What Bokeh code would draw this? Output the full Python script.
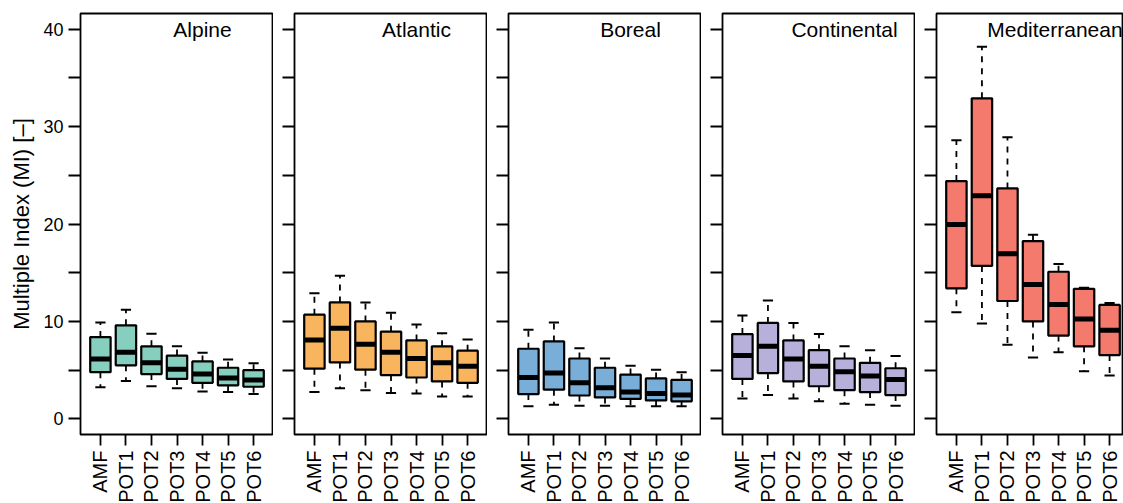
from bokeh.plotting import figure
from bokeh.layouts import row
from bokeh.models import FixedTicker, Range1d, Label, ColumnDataSource
from bokeh.embed import file_html
from bokeh.resources import INLINE

# ---------------- data ----------------
categories = ["AMF", "POT1", "POT2", "POT3", "POT4", "POT5", "POT6"]
regions = ["Alpine", "Atlantic", "Boreal", "Continental", "Mediterranean"]
colors = ["#86cfbe", "#f9b45e", "#78aed8", "#b6b0da", "#f37a6c"]

whisker_low = [
    [3.25, 3.9, 3.35, 3.15, 2.8, 2.75, 2.55],     # Alpine
    [2.75, 3.15, 2.95, 2.65, 2.6, 2.3, 2.3],      # Atlantic
    [1.3, 1.45, 1.35, 1.35, 1.3, 1.3, 1.3],       # Boreal
    [2.1, 2.45, 2.1, 1.8, 1.55, 1.45, 1.35],      # Continental
    [10.95, 9.8, 7.6, 6.3, 6.85, 4.9, 4.45],      # Mediterranean
]
q1 = [
    [4.8, 5.5, 4.6, 4.1, 3.7, 3.45, 3.3],
    [5.15, 5.8, 5.05, 4.5, 4.25, 3.85, 3.7],
    [2.55, 3.0, 2.4, 2.2, 2.05, 1.9, 1.8],
    [4.1, 4.7, 3.85, 3.35, 2.95, 2.75, 2.45],
    [13.4, 15.7, 12.1, 10.0, 8.55, 7.45, 6.55],
]
median = [
    [6.15, 6.85, 5.75, 5.1, 4.6, 4.2, 4.0],
    [8.1, 9.3, 7.65, 6.85, 6.2, 5.75, 5.4],
    [4.25, 4.7, 3.7, 3.2, 2.75, 2.6, 2.45],
    [6.5, 7.45, 6.15, 5.4, 4.85, 4.4, 4.05],
    [19.95, 22.9, 16.95, 13.8, 11.75, 10.25, 9.1],
]
q3 = [
    [8.4, 9.6, 7.45, 6.5, 5.9, 5.25, 5.0],
    [10.7, 11.95, 10.0, 8.95, 8.05, 7.45, 7.0],
    [7.2, 7.95, 6.2, 5.25, 4.55, 4.15, 4.0],
    [8.7, 9.85, 8.05, 7.05, 6.2, 5.75, 5.2],
    [24.4, 32.9, 23.65, 18.25, 15.1, 13.35, 11.7],
]
whisker_high = [
    [9.9, 11.2, 8.75, 7.45, 6.8, 6.1, 5.7],
    [12.9, 14.7, 11.95, 10.9, 9.7, 8.8, 8.15],
    [9.15, 9.9, 7.25, 6.2, 5.45, 5.05, 4.8],
    [10.6, 12.15, 9.85, 8.7, 7.45, 7.05, 6.45],
    [28.6, 38.2, 28.9, 18.9, 15.9, 13.45, 11.9],
]
y_ticks = [0, 5, 10, 15, 20, 25, 30, 35, 40]
y_tick_labels = {0: "0", 10: "10", 20: "20", 30: "30", 40: "40"}
y_title = "Multiple Index (MI) [\u2013]"

FONT = "Liberation Sans"
BOXW = 0.8
CAPW = 0.4
PX_PER_UNIT = 193 / 7.56

figs = []
for i, name in enumerate(regions):
    first = i == 0
    last = i == len(regions) - 1
    fw = 187 if last else 193
    x_end = 0.22 + fw / PX_PER_UNIT
    p = figure(
        frame_width=fw, frame_height=421,
        x_range=Range1d(0.22, x_end), y_range=Range1d(-1.6, 41.6),
        output_backend="svg", toolbar_location=None,
        min_border_left=80 if first else 21, min_border_right=0,
        min_border_top=13, min_border_bottom=5,
    )
    p.xgrid.grid_line_color = None
    p.ygrid.grid_line_color = None
    p.outline_line_color = "black"
    p.outline_line_width = 1.8
    p.background_fill_color = "white"
    p.border_fill_color = "white"

    xs = list(range(1, len(categories) + 1))
    src = ColumnDataSource(dict(
        x=xs, lo=whisker_low[i], q1=q1[i], med=median[i], q3=q3[i], hi=whisker_high[i],
        x0=[x - BOXW / 2 for x in xs], x1=[x + BOXW / 2 for x in xs],
        c0=[x - CAPW / 2 for x in xs], c1=[x + CAPW / 2 for x in xs],
    ))
    # whiskers (dashed)
    p.segment(x0="x", y0="q3", x1="x", y1="hi", source=src, line_color="black",
              line_width=1.8, line_dash="6 6")
    p.segment(x0="x", y0="q1", x1="x", y1="lo", source=src, line_color="black",
              line_width=1.8, line_dash="6 6")
    # caps
    p.segment(x0="c0", y0="hi", x1="c1", y1="hi", source=src, line_color="black", line_width=2)
    p.segment(x0="c0", y0="lo", x1="c1", y1="lo", source=src, line_color="black", line_width=2)
    # boxes
    p.vbar(x="x", bottom="q1", top="q3", width=BOXW, source=src, fill_color=colors[i],
           line_color="black", line_width=2.2)
    # medians
    p.segment(x0="x0", y0="med", x1="x1", y1="med", source=src, line_color="black",
              line_width=5)

    p.add_layout(Label(x=4.86 if last else 5, y=40, text=name, text_align="center",
                       text_baseline="middle", text_font=FONT, text_font_size="21px",
                       text_color="black"))

    # x axis
    xa = p.xaxis[0]
    xa.ticker = FixedTicker(ticks=xs)
    xa.major_label_overrides = {x: c for x, c in zip(xs, categories)}
    xa.major_label_orientation = 3.14159265 / 2
    xa.major_label_text_font = FONT
    xa.major_label_text_font_size = "20px"
    xa.major_label_text_color = "black"
    xa.major_label_standoff = 5
    xa.major_tick_out = 11
    xa.major_tick_in = 0
    xa.major_tick_line_width = 1.8
    xa.minor_tick_line_color = None
    xa.axis_line_color = None

    # y axis
    ya = p.yaxis[0]
    ya.ticker = FixedTicker(ticks=y_ticks)
    if first:
        ya.major_label_overrides = {t: y_tick_labels.get(t, "") for t in y_ticks}
        ya.axis_label = y_title
        ya.axis_label_text_font = FONT
        ya.axis_label_text_font_size = "22px"
        ya.axis_label_text_font_style = "normal"
        ya.axis_label_text_color = "black"
        ya.axis_label_standoff = 6
    else:
        ya.major_label_overrides = {t: "" for t in y_ticks}
    ya.major_label_text_font = FONT
    ya.major_label_text_font_size = "18px"
    ya.major_label_text_color = "black"
    ya.major_label_standoff = 5
    ya.major_label_orientation = "horizontal"
    ya.major_tick_out = 12
    ya.major_tick_in = 0
    ya.major_tick_line_width = 1.8
    ya.minor_tick_line_color = None
    ya.axis_line_color = None
    figs.append(p)

layout = row(*figs, spacing=0)
open("out.html", "w").write(file_html(layout, INLINE))
